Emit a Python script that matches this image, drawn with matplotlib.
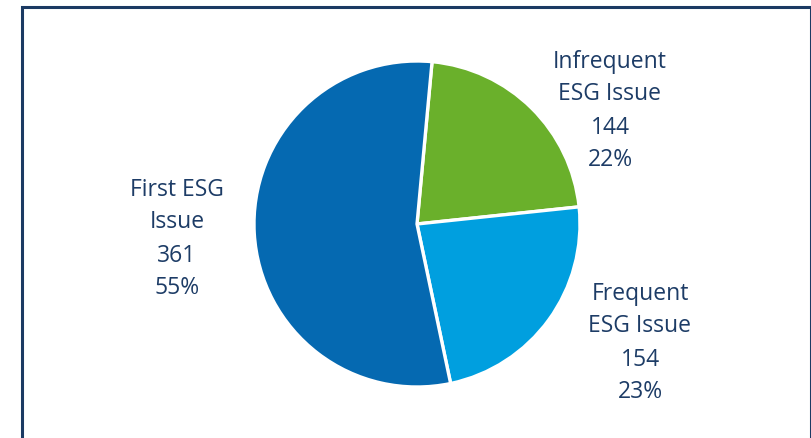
import matplotlib.pyplot as plt
from matplotlib.patches import Rectangle

# issue counts by ESG category
categories = ["Infrequent\nESG Issue", "Frequent\nESG Issue", "First ESG\nIssue"]
counts = [144, 154, 361]
colors = ["#6ab02b", "#009fdf", "#0569b1"]
label_pos = [(610, 328), (640, 96), (177, 200)]

text_color = "#1d3c66"
plt.rcParams["font.family"] = ["Open Sans", "DejaVu Sans"]

W, H = 812, 439
fig = plt.figure(figsize=(W / 100, H / 100), dpi=100)
ax = fig.add_axes([0, 0, 1, 1])
ax.set_xlim(0, W)
ax.set_ylim(0, H)
ax.set_aspect("equal")
ax.axis("off")

ax.pie(counts, colors=colors, startangle=84.7, counterclock=False,
       center=(417, 214), radius=163,
       wedgeprops=dict(edgecolor="white", linewidth=2.4))
ax.set_xlim(0, W)
ax.set_ylim(0, H)

total = sum(counts)
for name, n, (x, y) in zip(categories, counts, label_pos):
    pct = round(100 * n / total)
    ax.text(x, y, f"{name}\n{n}\n{pct}%", ha="center", va="center",
            fontsize=16.5, color=text_color, linespacing=1.5)

# frame around the chart, open at the bottom
ax.add_patch(Rectangle((22, -10), 789, 441, fill=False,
                       edgecolor="#1b3a63", linewidth=2.2, clip_on=False))

fig.savefig("out.png", dpi=100)
